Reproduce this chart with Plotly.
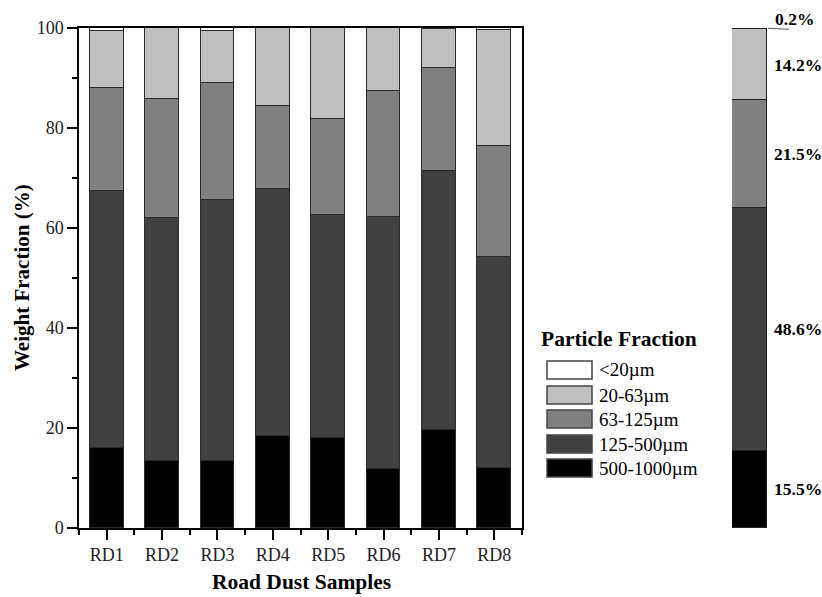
import plotly.graph_objects as go

# ---------------- data ----------------
categories = ["RD1", "RD2", "RD3", "RD4", "RD5", "RD6", "RD7", "RD8"]
fractions = ["500-1000µm", "125-500µm", "63-125µm", "20-63µm", "<20µm"]  # bottom -> top
colors = ["#000000", "#404040", "#808080", "#c0c0c0", "#ffffff"]

v_500_1000 = [16.0, 13.5, 13.5, 18.4, 18.1, 11.9, 19.6, 12.1]
v_125_500 = [51.4, 48.6, 52.1, 49.4, 44.5, 50.4, 51.8, 42.1]
v_63_125 = [20.6, 23.8, 23.4, 16.6, 19.3, 25.2, 20.6, 22.3]
v_20_63 = [11.4, 14.1, 10.5, 15.6, 18.1, 12.5, 7.8, 23.1]
v_lt20 = [0.6, 0.0, 0.5, 0.0, 0.0, 0.0, 0.2, 0.4]
series = [v_500_1000, v_125_500, v_63_125, v_20_63, v_lt20]

mean_values = [15.5, 48.6, 21.5, 14.2, 0.2]  # bottom -> top
mean_labels = ["15.5%", "48.6%", "21.5%", "14.2%", "0.2%"]

y_ticks = [0, 20, 40, 60, 80, 100]

# ---------------- layout helpers ----------------
W, H = 822, 597
ML, MR, MT, MB = 79, 55, 28, 69
PW, PH = W - ML - MR, H - MT - MB


def px(x):
    return (x - ML) / PW


def py(y):
    return (H - MB - y) / PH


FONT = "Liberation Serif, Times New Roman, serif"
fig = go.Figure()

xs = list(range(len(categories)))
for name, vals, col in zip(fractions, series, colors):
    fig.add_trace(go.Bar(
        x=xs, y=vals, name=name, marker=dict(color=col, line=dict(color="#2a2a2a", width=1)),
        width=0.61, xaxis="x", yaxis="y", showlegend=False))

for name, val, col in zip(fractions, mean_values, colors):
    fig.add_trace(go.Bar(
        x=[0], y=[val], name=name, marker=dict(color=col, line=dict(color="#222222", width=1)),
        width=1.0, xaxis="x2", yaxis="y2", showlegend=False))

fig.update_layout(
    width=W, height=H, barmode="stack", bargap=0,
    margin=dict(l=ML, r=MR, t=MT, b=MB),
    paper_bgcolor="white", plot_bgcolor="rgba(0,0,0,0)",
    font=dict(family=FONT, color="#222222"),
    xaxis=dict(domain=[0, px(522)], range=[-0.5, len(categories) - 0.5],
               tickmode="array", tickvals=xs, ticktext=categories,
               ticks="outside", ticklen=10, tickwidth=1.5, tickcolor="#000",
               minor=dict(tickmode="linear", tick0=0.5, dtick=1, ticks="outside",
                          ticklen=5, tickwidth=1.5, tickcolor="#000"),
               showline=True, linecolor="#000", linewidth=1.5, mirror=True,
               showgrid=False, zeroline=False, automargin=False,
               tickfont=dict(size=18, family=FONT, color="#222")),
    yaxis=dict(domain=[0, 1], range=[0, 100], tickmode="array", tickvals=y_ticks,
               ticks="outside", ticklen=10, tickwidth=1.5, tickcolor="#000",
               minor=dict(tickmode="linear", tick0=0, dtick=10, ticks="outside",
                          ticklen=5, tickwidth=1.5, tickcolor="#000"),
               showline=True, linecolor="#000", linewidth=1.5, mirror=True,
               showgrid=False, zeroline=False, automargin=False,
               tickfont=dict(size=18, family=FONT, color="#222")),
    xaxis2=dict(domain=[px(732), 1], range=[-0.5, 0.5], visible=False, anchor="y2"),
    yaxis2=dict(domain=[0, 1], range=[0, 100], visible=False, anchor="x2"),
)

ann = []
# axis titles
ann.append(dict(text="Weight Fraction (%)", x=px(22), y=py(278), xref="paper", yref="paper",
                textangle=-90, showarrow=False, xanchor="center", yanchor="middle",
                font=dict(size=21, family=FONT, color="#000", weight="bold")))
ann.append(dict(text="Road Dust Samples", x=px(301), y=py(582), xref="paper", yref="paper",
                showarrow=False, xanchor="center", yanchor="middle",
                font=dict(size=21.5, family=FONT, color="#000", weight="bold")))

# summary labels
cum = 0
for i, (val, lab) in enumerate(zip(mean_values, mean_labels)):
    mid = cum + val / 2
    cum += val
    if i == len(mean_values) - 1:
        ann.append(dict(text=lab, x=0.5, y=100, xref="x2", yref="y2", showarrow=False,
                        xanchor="left", yanchor="middle", xshift=6, yshift=9,
                        font=dict(size=17.5, family=FONT, color="#000", weight="bold")))
    else:
        ann.append(dict(text=lab, x=0.5, y=mid, xref="x2", yref="y2", showarrow=False,
                        xanchor="left", yanchor="middle", xshift=5,
                        font=dict(size=17.5, family=FONT, color="#000", weight="bold")))

# custom legend
ann.append(dict(text="Particle Fraction", x=px(539), y=py(339), xref="paper", yref="paper",
                showarrow=False, xanchor="left", yanchor="middle",
                font=dict(size=21.5, family=FONT, color="#000", weight="bold")))
shapes = []
legend_y = [370, 395, 419, 444, 468]
for cy, name, col in zip(legend_y, fractions[::-1], colors[::-1]):
    shapes.append(dict(type="rect", xref="paper", yref="paper",
                       x0=px(547), x1=px(592), y0=py(cy + 9), y1=py(cy - 9),
                       fillcolor=col, line=dict(color="#444444", width=1.5)))
    ann.append(dict(text=name, x=px(597), y=py(cy), xref="paper", yref="paper",
                    showarrow=False, xanchor="left", yanchor="middle",
                    font=dict(size=19, family=FONT, color="#000")))

# leader line for 0.2%
shapes.append(dict(type="line", xref="paper", yref="paper",
                   x0=px(768), y0=py(28.3), x1=px(789), y1=py(29.3),
                   line=dict(color="#555555", width=1)))

fig.update_layout(annotations=ann, shapes=shapes)
fig.write_html("out.html", config={"displayModeBar": False},
               post_script="document.body.style.margin='0';document.body.style.overflow='hidden';")
